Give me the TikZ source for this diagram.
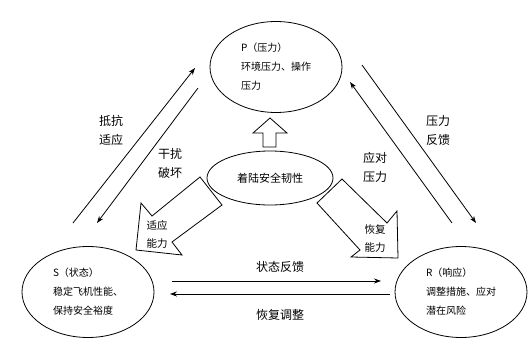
\documentclass[tikz,border=0pt]{standalone}
\usepackage{fontspec}
\newfontfamily\cjk{Noto Sans CJK SC}
\usepackage{tikz}
\usetikzlibrary{arrows.meta}
\usetikzlibrary{shapes.geometric}

\tikzset{
  psr/.style={draw, ellipse, line width=0.8pt, minimum width=132pt, minimum height=91pt,
    inner sep=0pt, align=left, font=\cjk\fontsize{10}{19}\selectfont},
  flowlbl/.style={font=\cjk\fontsize{12}{19}\selectfont, align=center},
  flow/.style={line width=0.8pt, -{Stealth[length=7pt,width=5pt]}},
  fatarrow/.style={draw, line width=0.8pt, line join=miter},
  fatlbl/.style={font=\cjk\fontsize{10.5}{18}\selectfont, align=center}
}

\begin{document}
\begin{tikzpicture}[x=1pt,y=-1pt]
			
			\useasboundingbox (0,0) rectangle (529,353);
			
			% P, S, R
			\node[psr] (P) at (276,67) {P（压力）\\环境压力、操作\\压力};
			\node[psr] (S) at (88,292) {S（状态）\\稳定飞机性能、\\保持安全裕度};
			\node[psr] (R) at (461,292) {R（响应）\\调整措施、应对\\潜在风险};
			
			% resilience in the middle
			\node[draw, ellipse, line width=0.8pt, minimum width=126pt, minimum height=54pt,
			  font=\cjk\fontsize{11}{13}\selectfont] (C) at (270,178) {着陆安全韧性};
			
			% fat arrows out of the middle
			\draw[fatarrow] (263,147) -- (263,133) -- (253,133) -- (270,118) -- (287,133)
			  -- (276,133) -- (276,147) -- cycle;
			\draw[fatarrow] (200,177) -- (222,205) -- (172,242) -- (182,255) -- (136,250)
			  -- (141,203) -- (152,216) -- cycle;
			\draw[fatarrow] (342,179) -- (387,223) -- (397,211) -- (398,258) -- (351,257)
			  -- (360,250) -- (317,203) -- cycle;
			\node[fatlbl] (adapt) at (157,234) {适应\\能力};
			\node[fatlbl] (recover) at (375,239) {恢复\\能力};
			
			% S <-> P
			\coordinate (sp1) at (73,223);
			\coordinate (sp2) at (195,68);
			\coordinate (ps1) at (198,88);
			\coordinate (ps2) at (97,223);
			\draw[flow] (sp1) -- (sp2);
			\draw[flow] (ps1) -- (ps2);
			\node[flowlbl] (resist) at (111,130) {抵抗\\适应};
			\node[flowlbl] (disturb) at (170,163) {干扰\\破坏};
			
			% P <-> R
			\coordinate (pr1) at (362,65);
			\coordinate (pr2) at (476,223);
			\coordinate (rp1) at (452,223);
			\coordinate (rp2) at (350,82);
			\draw[flow] (pr1) -- (pr2);
			\draw[flow] (rp1) -- (rp2);
			\node[flowlbl] (feedback) at (438,130) {压力\\反馈};
			\node[flowlbl] (cope) at (375,167) {应对\\压力};
			
			% S <-> R
			\coordinate (sr1) at (172,281);
			\coordinate (sr2) at (381,281);
			\coordinate (rs1) at (390,294);
			\coordinate (rs2) at (170,294);
			\draw[flow] (sr1) -- (sr2);
			\draw[flow] (rs1) -- (rs2);
			\node[flowlbl] (statefb) at (280,267) {状态反馈};
			\node[flowlbl] (adjust) at (280,315) {恢复调整};
			
		\end{tikzpicture}
\end{document}
